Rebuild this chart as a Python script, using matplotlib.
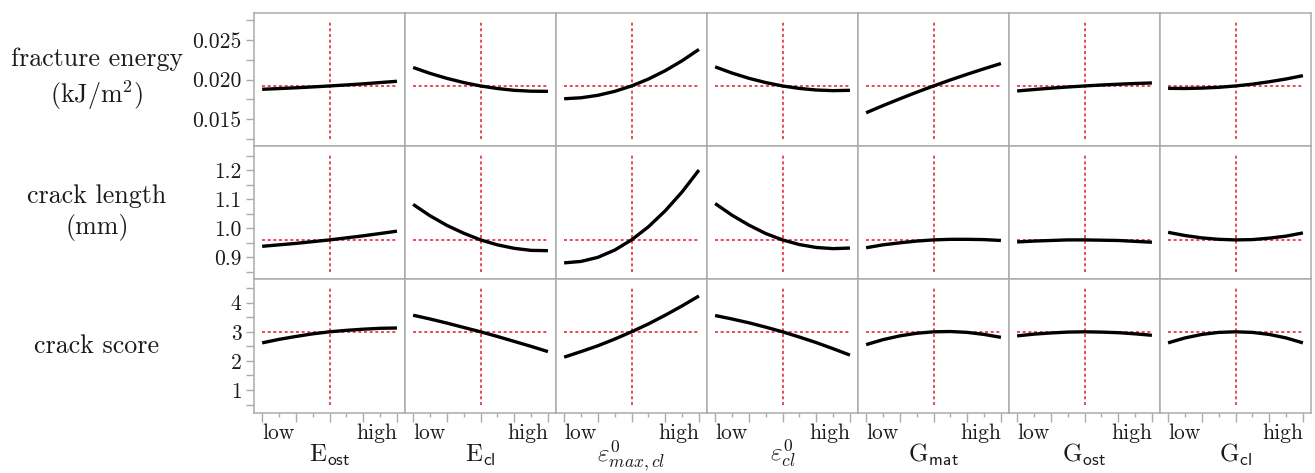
import matplotlib
matplotlib.use("Agg")
import matplotlib.pyplot as plt
from matplotlib.ticker import MultipleLocator, FormatStrFormatter

plt.rcParams["font.family"] = "cmr10"
plt.rcParams["mathtext.fontset"] = "cm"
plt.rcParams["axes.unicode_minus"] = False

# coded factor levels (-1 = low, +1 = high)
levels = [-1, -0.75, -0.5, -0.25, 0, 0.25, 0.5, 0.75, 1]

factor_labels = [
    r"$\mathrm{E}_{\mathsf{ost}}$",
    r"$\mathrm{E}_{\mathsf{cl}}$",
    r"$\varepsilon^0_{max,cl}$",
    r"$\varepsilon^0_{cl}$",
    r"$\mathrm{G}_{\mathsf{mat}}$",
    r"$\mathrm{G}_{\mathsf{ost}}$",
    r"$\mathrm{G}_{\mathsf{cl}}$",
]

response_labels = ["fracture energy\n(kJ/m$^2$)", "crack length\n(mm)", "crack score"]

# predicted response at the centre point
response_refs = [0.0192, 0.96, 3.0]

# prediction profiles, one list per factor (E_ost, E_cl, eps_max_cl, eps_cl, G_mat, G_ost, G_cl)
fracture_energy = [
    [0.01878, 0.01887, 0.01897, 0.01908, 0.01920, 0.01933, 0.01947, 0.01963, 0.01979],
    [0.02153, 0.02079, 0.02016, 0.01963, 0.01920, 0.01888, 0.01865, 0.01854, 0.01852],
    [0.01759, 0.01771, 0.01802, 0.01852, 0.01920, 0.02007, 0.02113, 0.02238, 0.02381],
    [0.02161, 0.02083, 0.02017, 0.01963, 0.01920, 0.01889, 0.01869, 0.01861, 0.01865],
    [0.01582, 0.01672, 0.01758, 0.01841, 0.01920, 0.01996, 0.02068, 0.02137, 0.02203],
    [0.01857, 0.01875, 0.01892, 0.01907, 0.01920, 0.01932, 0.01942, 0.01951, 0.01958],
    [0.01890, 0.01888, 0.01893, 0.01903, 0.01920, 0.01943, 0.01973, 0.02008, 0.02050],
]
crack_length = [
    [0.938, 0.943, 0.948, 0.954, 0.960, 0.967, 0.974, 0.982, 0.990],
    [1.082, 1.043, 1.010, 0.983, 0.960, 0.943, 0.931, 0.924, 0.923],
    [0.881, 0.886, 0.900, 0.925, 0.960, 1.005, 1.060, 1.125, 1.200],
    [1.085, 1.045, 1.011, 0.982, 0.960, 0.944, 0.934, 0.930, 0.932],
    [0.933, 0.943, 0.950, 0.956, 0.960, 0.962, 0.962, 0.961, 0.958],
    [0.953, 0.956, 0.958, 0.960, 0.960, 0.959, 0.958, 0.955, 0.952],
    [0.986, 0.975, 0.967, 0.962, 0.960, 0.961, 0.966, 0.973, 0.984],
]
crack_score = [
    [2.62, 2.74, 2.84, 2.93, 3.00, 3.05, 3.09, 3.12, 3.13],
    [3.57, 3.44, 3.30, 3.15, 3.00, 2.84, 2.67, 2.50, 2.32],
    [2.13, 2.32, 2.52, 2.75, 3.00, 3.27, 3.57, 3.89, 4.23],
    [3.56, 3.44, 3.31, 3.16, 3.00, 2.82, 2.63, 2.42, 2.20],
    [2.56, 2.73, 2.86, 2.95, 3.00, 3.01, 2.98, 2.91, 2.81],
    [2.86, 2.92, 2.96, 2.99, 3.00, 2.99, 2.97, 2.93, 2.88],
    [2.62, 2.79, 2.91, 2.98, 3.00, 2.98, 2.91, 2.79, 2.62],
]
responses = [fracture_energy, crack_length, crack_score]

# axis settings per response row
row_limits = [(0.0116, 0.0284), (0.824, 1.282), (0.223, 4.797)]
row_major = [0.005, 0.1, 1.0]
row_minor = [0.0025, 0.05, 0.5]
row_formats = ["%.3f", "%.1f", "%d"]

GREY = "#ababab"
RED = "#ea2a3c"
TEXT = "#1a1a1a"

fig, axes = plt.subplots(3, 7, figsize=(13.15, 4.73), dpi=100, sharex=True, sharey="row")
fig.subplots_adjust(left=0.1932, right=0.99696, top=0.9725, bottom=0.1275, wspace=0, hspace=0)

for r, profiles in enumerate(responses):
    ref = response_refs[r]
    for c, values in enumerate(profiles):
        ax = axes[r, c]
        ax.axvline(0, ymin=0.055, ymax=0.945, color=RED, lw=1.2, dashes=(1.8, 1.6), zorder=1)
        ax.plot([levels[0], levels[-1]], [ref, ref], color=RED, lw=1.2, dashes=(1.8, 1.6), zorder=1)
        ax.plot(levels, values, color="black", lw=2.4, solid_capstyle="butt",
                solid_joinstyle="round", zorder=3)

        for spine in ax.spines.values():
            spine.set_color(GREY)
            spine.set_linewidth(1.1)

        ax.tick_params(which="both", color=GREY, width=1.0, labelsize=15.5,
                       labelcolor=TEXT, direction="out")
        ax.tick_params(axis="y", which="both", length=6, pad=3)
        ax.tick_params(axis="x", which="major", length=6.5, pad=1)
        ax.tick_params(axis="x", which="minor", length=3)
        if c > 0:
            ax.tick_params(axis="y", which="both", left=False)
        if r < 2:
            ax.tick_params(axis="x", which="both", bottom=False)

    ax0 = axes[r, 0]
    ax0.set_ylim(*row_limits[r])
    ax0.yaxis.set_major_locator(MultipleLocator(row_major[r]))
    ax0.yaxis.set_minor_locator(MultipleLocator(row_minor[r]))
    ax0.yaxis.set_major_formatter(FormatStrFormatter(row_formats[r]))

    pos = ax0.get_position()
    fig.text(0.0738, (pos.y0 + pos.y1) / 2, response_labels[r], ha="center", va="center",
             fontsize=18.7, color=TEXT, linespacing=1.3, multialignment="center")

axes[0, 0].set_xlim(-1.12, 1.12)
axes[0, 0].set_xticks([-1, -0.5, 0, 0.5, 1], labels=["low", "", "", "", "high"])
axes[0, 0].set_xticks([-0.75, -0.25, 0.25, 0.75], minor=True)

for c, ax in enumerate(axes[2]):
    # factor names sit on a common baseline below the low/high labels
    ax.set_xlabel(factor_labels[c], fontsize=18, color=TEXT, va="baseline")
    ax.xaxis.set_label_coords(0.5, -0.37)
    ticks = ax.xaxis.get_major_ticks()
    ticks[0].label1.set_horizontalalignment("left")
    ticks[-1].label1.set_horizontalalignment("right")

fig.savefig("out.png", dpi=100, facecolor="white")
